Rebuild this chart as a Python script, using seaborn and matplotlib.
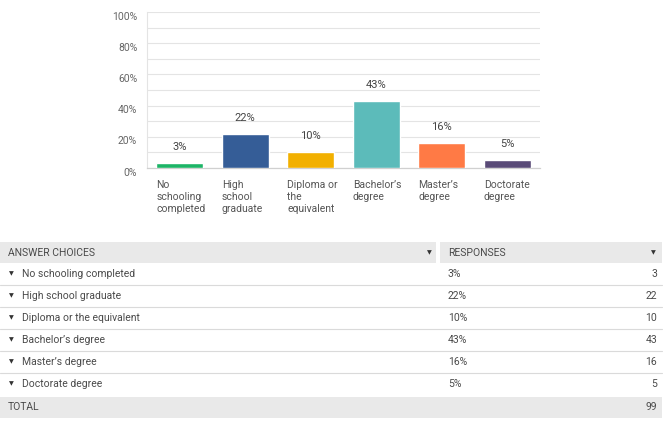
import matplotlib
matplotlib.use("Agg")
import matplotlib.pyplot as plt
import matplotlib.transforms as mtransforms
import seaborn as sns
import pandas as pd
from matplotlib.patches import Rectangle
from matplotlib.lines import Line2D

categories = ["No schooling completed", "High school graduate", "Diploma or the equivalent",
              "Bachelor\u2019s degree", "Master\u2019s degree", "Doctorate degree"]
axis_labels = ["No\nschooling\ncompleted", "High\nschool\ngraduate", "Diploma or\nthe\nequivalent",
               "Bachelor\u2019s\ndegree", "Master\u2019s\ndegree", "Doctorate\ndegree"]
percents = [3, 22, 10, 43, 16, 5]
counts = [3, 22, 10, 43, 16, 5]
total = 99
colors = ["#1cb466", "#355d97", "#f2b000", "#5cbbba", "#ff7a45", "#594a77"]
y_ticks = [0, 20, 40, 60, 80, 100]

sns.set_theme(style="white")
plt.rcParams["font.family"] = ["Roboto", "DejaVu Sans"]

W, H = 665, 424
fig = plt.figure(figsize=(W / 100, H / 100), dpi=100)

def fx(x):
    return x / W

def fy(y):
    return 1 - y / H

ax_left, ax_right, ax_top, ax_bottom = 147, 540, 12, 168
ax = fig.add_axes([fx(ax_left), fy(ax_bottom), (ax_right - ax_left) / W, (ax_bottom - ax_top) / H])

df = pd.DataFrame({"cat": categories, "pct": percents})
sns.barplot(data=df, x="cat", y="pct", hue="cat", palette=colors, legend=False,
            width=0.72, ax=ax, saturation=1, zorder=3)

ax.set_xlim(-0.5, len(categories) - 0.5)
ax.set_ylim(0, 100)
ax.set_yticks(y_ticks)
ax.set_yticks(range(10, 100, 20), minor=True)
ax.yaxis.grid(True, which="both", color="#e4e4e4", linewidth=0.8, zorder=0)
ax.set_yticklabels([f"{t}%" for t in y_ticks], color="#666666", fontsize=7.5)
ax.tick_params(axis="y", which="both", length=0, pad=7)
for lbl in ax.get_yticklabels():
    lbl.set_transform(lbl.get_transform() + mtransforms.ScaledTranslation(0, -3.5 / 100, fig.dpi_scale_trans))

ax.set_xticks(range(len(categories)))
ax.set_xticklabels([])
ax.tick_params(axis="x", length=0)
ax.set_xlabel("")
ax.set_ylabel("")
for s in ["top", "right"]:
    ax.spines[s].set_visible(False)
ax.spines["left"].set_color("#e4e4e4")
ax.spines["left"].set_linewidth(0.8)
ax.spines["bottom"].set_color("#d0d0d0")
ax.spines["bottom"].set_linewidth(0.9)

# category labels left-aligned under bars
for i, lab in enumerate(axis_labels):
    ax.annotate(lab, xy=(i - 0.36, 0), xycoords="data", xytext=(0, -9), textcoords="offset points",
                ha="left", va="top", fontsize=7.5, color="#555555", linespacing=1.25)

# value labels
for i, p in enumerate(percents):
    ax.annotate(f"{p}%", xy=(i, p), xycoords="data", xytext=(0, 8), textcoords="offset points",
                ha="center", va="bottom", fontsize=8, color="#444444")

# ---------- table ----------
tcolor = "#4a4a4a"
header_bg = "#e9e9e9"
fig.patches.append(Rectangle((fx(0), fy(263)), fx(436), 21 / H, transform=fig.transFigure,
                             facecolor=header_bg, edgecolor="none", zorder=0))
fig.patches.append(Rectangle((fx(440), fy(263)), fx(222), 21 / H, transform=fig.transFigure,
                             facecolor=header_bg, edgecolor="none", zorder=0))
fig.text(fx(8), fy(252.5), "ANSWER CHOICES", ha="left", va="center", fontsize=7.5, color=tcolor)
fig.text(fx(448), fy(252.5), "RESPONSES", ha="left", va="center", fontsize=7.5, color=tcolor)
fig.text(fx(429), fy(252.5), "\u25bc", ha="center", va="center", fontsize=4.5, color="#333333")
fig.text(fx(653), fy(252.5), "\u25bc", ha="center", va="center", fontsize=4.5, color="#333333")

row_h = 22
row0 = 274
for i, cat in enumerate(categories):
    yc = row0 + i * row_h
    fig.text(fx(11), fy(yc), "\u25bc", ha="center", va="center", fontsize=4.5, color="#333333")
    fig.text(fx(22), fy(yc), cat, ha="left", va="center", fontsize=7.5, color=tcolor)
    fig.text(fx(448), fy(yc), f"{percents[i]}%", ha="left", va="center", fontsize=7.5, color=tcolor)
    fig.text(fx(657), fy(yc), f"{counts[i]}", ha="right", va="center", fontsize=7.5, color=tcolor)
    if i < len(categories) - 1:
        ysep = yc + row_h / 2
        fig.lines.append(Line2D([fx(0), fx(662)], [fy(ysep), fy(ysep)], transform=fig.transFigure,
                                color="#dadada", linewidth=0.8))

fig.patches.append(Rectangle((fx(0), fy(418)), fx(662), 21 / H, transform=fig.transFigure,
                             facecolor=header_bg, edgecolor="none", zorder=0))
fig.text(fx(8), fy(407.5), "TOTAL", ha="left", va="center", fontsize=7.5, color=tcolor)
fig.text(fx(657), fy(407.5), f"{total}", ha="right", va="center", fontsize=7.5, color=tcolor)

fig.savefig("out.png", dpi=100)
